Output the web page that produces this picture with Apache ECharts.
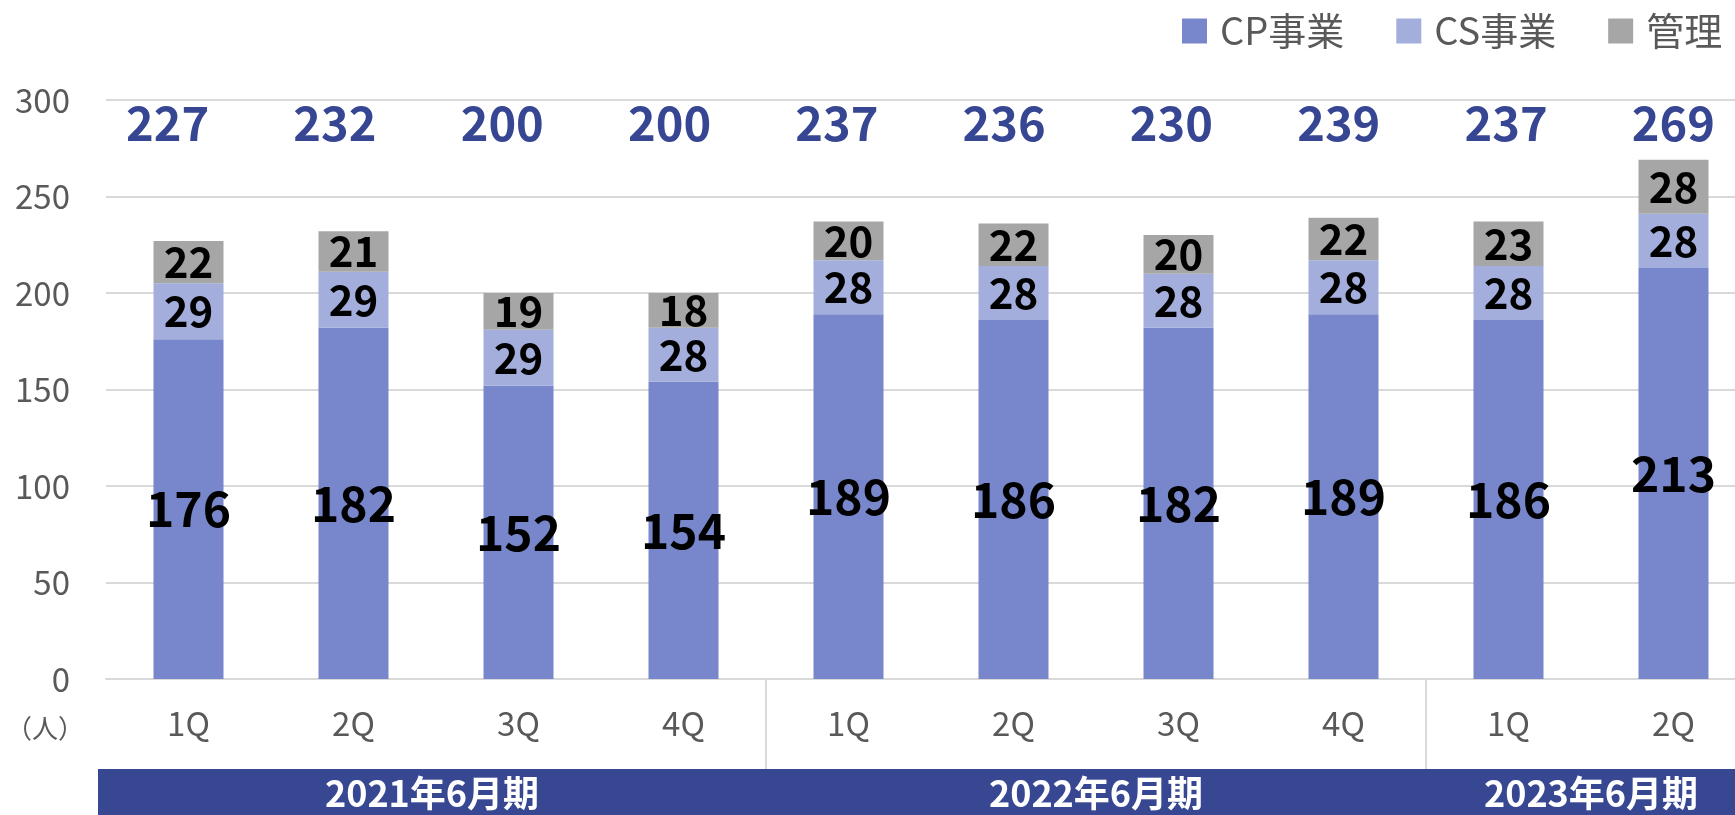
<!DOCTYPE html>
<html>
<head>
<meta charset="utf-8">
<script src="https://cdn.jsdelivr.net/npm/echarts@6/dist/echarts.min.js"></script>
<style>
html, body { margin: 0; padding: 0; background: #fff; }
#main { width: 1735px; height: 815px; }
</style>
</head>
<body>
<div id="main"></div>
<script>
// 四半期ごとの人員数
var quarters = ['1Q', '2Q', '3Q', '4Q', '1Q', '2Q', '3Q', '4Q', '1Q', '2Q'];
var cpValues = [176, 182, 152, 154, 189, 186, 182, 189, 186, 213];
var csValues = [29, 29, 29, 28, 28, 28, 28, 28, 28, 28];
var adminValues = [22, 21, 19, 18, 20, 22, 20, 22, 23, 28];
var totals = cpValues.map(function (v, i) { return String(v + csValues[i] + adminValues[i]); });

var fiscalYears = ['2021年6月期', '2022年6月期', '2023年6月期'];
var yearRanges = [[0, 3], [4, 7], [8, 9]];

var FONT = "'Noto Sans CJK JP', 'Noto Sans', sans-serif";
var GRAY_TEXT = '#595959';
var GRID_LINE = '#d9d9d9';
var NAVY = '#374693';

var segLabel = function (size) {
	return { show: true, position: 'inside', fontSize: size, fontWeight: 'bold', color: '#000', fontFamily: FONT };
};

var option = {
	animation: false,
	textStyle: { fontFamily: FONT },
	legend: {
		top: 7,
		left: 1177,
		icon: 'rect',
		itemWidth: 25,
		itemHeight: 25,
		itemGap: 52,
		textStyle: { fontSize: 38, color: GRAY_TEXT, padding: [0, 0, 0, 8] },
		data: ['CP事業', 'CS事業', '管理']
	},
	// 右端はキャンバスの外まで伸びている
	grid: [
		{ left: 106, top: 100, width: 1650, height: 579, outerBoundsMode: 'none' },
		// 合計ラベル用
		{ left: 84, top: 100, width: 1673, height: 579, outerBoundsMode: 'none' }
	],
	xAxis: [
		{
			gridIndex: 0,
			type: 'category',
			data: quarters,
			axisTick: { show: false },
			axisLine: { lineStyle: { color: GRID_LINE, width: 2 } },
			axisLabel: { margin: 28, fontSize: 33, color: GRAY_TEXT }
		},
		{
			gridIndex: 1,
			type: 'category',
			position: 'top',
			data: totals,
			axisTick: { show: false },
			axisLine: { show: false },
			axisLabel: { inside: true, margin: 0, fontSize: 47, fontWeight: 'bold', color: NAVY }
		}
	],
	yAxis: [
		{
			gridIndex: 0,
			type: 'value',
			min: 0,
			max: 300,
			interval: 50,
			splitLine: { lineStyle: { color: GRID_LINE, width: 2 } },
			axisLabel: { margin: 36, fontSize: 33, color: GRAY_TEXT }
		},
		{ gridIndex: 1, type: 'value', min: 0, max: 300, show: false }
	],
	series: [
		{
			name: 'CP事業', type: 'bar', stack: 'total', barWidth: 70,
			data: cpValues, itemStyle: { color: '#7886CB' }, label: segLabel(48)
		},
		{
			name: 'CS事業', type: 'bar', stack: 'total', barWidth: 70,
			data: csValues, itemStyle: { color: '#A3AEDC' }, label: segLabel(42)
		},
		{
			name: '管理', type: 'bar', stack: 'total', barWidth: 70,
			data: adminValues, itemStyle: { color: '#A6A6A6' }, label: segLabel(42)
		}
	]
};

var chart = echarts.init(document.getElementById('main'));
chart.setOption(option);

// 年度帯と区切り線
function px(i) { return chart.convertToPixel({ xAxisIndex: 0 }, i); }
var baseY = chart.convertToPixel({ yAxisIndex: 0 }, 0);
var bandTop = 769;
var bandLeft = 98;
var graphics = [
	{ type: 'rect', shape: { x: bandLeft, y: bandTop, width: 1735 - bandLeft, height: 815 - bandTop }, style: { fill: '#384791' } },
	{ type: 'text', x: 45, y: 728, style: { text: '（人）', font: '26px ' + FONT, fill: GRAY_TEXT, textAlign: 'center', textVerticalAlign: 'middle' } }
];
var seps = [];
for (var k = 0; k < yearRanges.length - 1; k++) {
	var sx = (px(yearRanges[k][1]) + px(yearRanges[k + 1][0])) / 2;
	seps.push(sx);
	graphics.push({ type: 'line', shape: { x1: sx, y1: baseY, x2: sx, y2: bandTop }, style: { stroke: GRID_LINE, lineWidth: 2 } });
}
fiscalYears.forEach(function (name, k) {
	var cx = (px(yearRanges[k][0]) + px(yearRanges[k][1])) / 2;
	if (k === 0) cx = (bandLeft + seps[0]) / 2;
	graphics.push({ type: 'text', x: cx, y: 793, style: { text: name, font: 'bold 36px ' + FONT, fill: '#fff', textAlign: 'center', textVerticalAlign: 'middle' } });
});
chart.setOption({ graphic: graphics });
</script>
</body>
</html>
